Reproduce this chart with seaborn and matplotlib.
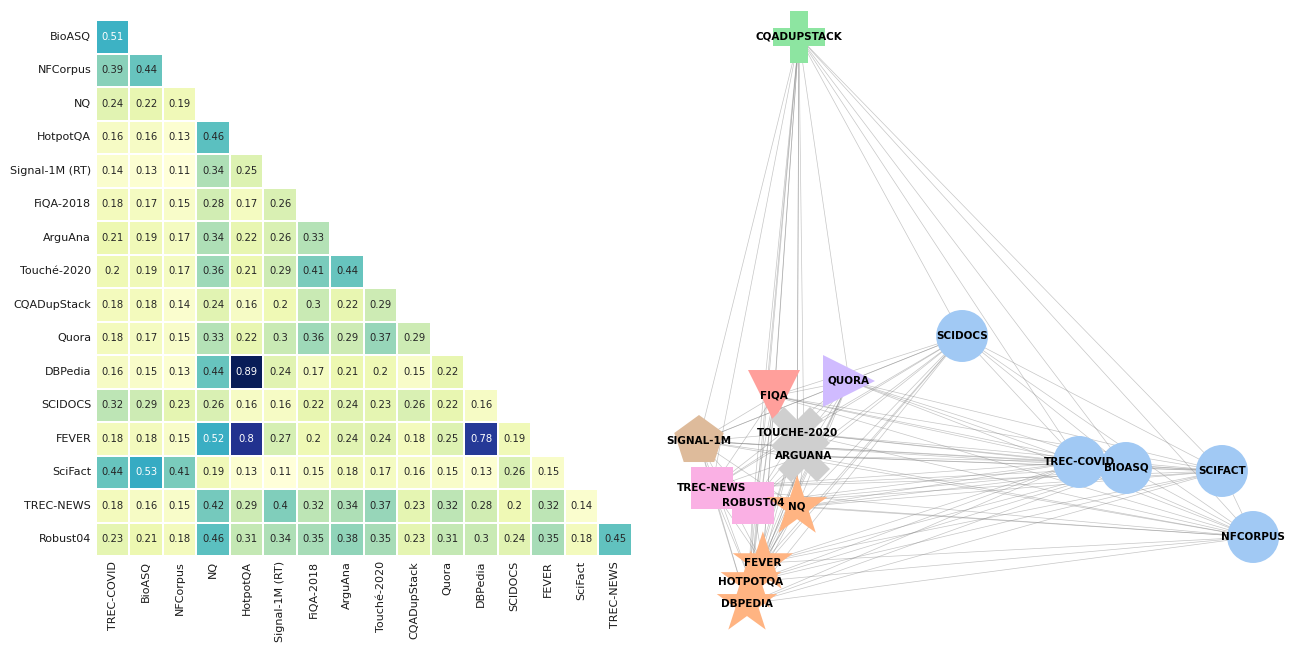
import numpy as np
import pandas as pd
import matplotlib
matplotlib.use("Agg")
import matplotlib.pyplot as plt
import seaborn as sns
from matplotlib.collections import LineCollection

# ---------------- heatmap data ----------------
datasets = ["TREC-COVID", "BioASQ", "NFCorpus", "NQ", "HotpotQA", "Signal-1M (RT)",
            "FiQA-2018", "ArguAna", "Touché-2020", "CQADupStack", "Quora", "DBPedia",
            "SCIDOCS", "FEVER", "SciFact", "TREC-NEWS", "Robust04"]

sim_bioasq = [0.51]
sim_nfcorpus = [0.39, 0.44]
sim_nq = [0.24, 0.22, 0.19]
sim_hotpotqa = [0.16, 0.16, 0.13, 0.46]
sim_signal = [0.14, 0.13, 0.11, 0.34, 0.25]
sim_fiqa = [0.18, 0.17, 0.15, 0.28, 0.17, 0.26]
sim_arguana = [0.21, 0.19, 0.17, 0.34, 0.22, 0.26, 0.33]
sim_touche = [0.2, 0.19, 0.17, 0.36, 0.21, 0.29, 0.41, 0.44]
sim_cqadupstack = [0.18, 0.18, 0.14, 0.24, 0.16, 0.2, 0.3, 0.22, 0.29]
sim_quora = [0.18, 0.17, 0.15, 0.33, 0.22, 0.3, 0.36, 0.29, 0.37, 0.29]
sim_dbpedia = [0.16, 0.15, 0.13, 0.44, 0.89, 0.24, 0.17, 0.21, 0.2, 0.15, 0.22]
sim_scidocs = [0.32, 0.29, 0.23, 0.26, 0.16, 0.16, 0.22, 0.24, 0.23, 0.26, 0.22, 0.16]
sim_fever = [0.18, 0.18, 0.15, 0.52, 0.8, 0.27, 0.2, 0.24, 0.24, 0.18, 0.25, 0.78, 0.19]
sim_scifact = [0.44, 0.53, 0.41, 0.19, 0.13, 0.11, 0.15, 0.18, 0.17, 0.16, 0.15, 0.13, 0.26, 0.15]
sim_trecnews = [0.18, 0.16, 0.15, 0.42, 0.29, 0.4, 0.32, 0.34, 0.37, 0.23, 0.32, 0.28, 0.2, 0.32, 0.14]
sim_robust04 = [0.23, 0.21, 0.18, 0.46, 0.31, 0.34, 0.35, 0.38, 0.35, 0.23, 0.31, 0.3, 0.24, 0.35, 0.18, 0.45]

# ---------------- graph data ----------------
node_names = ["CQADUPSTACK", "SCIDOCS", "QUORA", "FIQA", "SIGNAL-1M", "TOUCHE-2020",
              "ARGUANA", "TREC-NEWS", "ROBUST04", "NQ", "FEVER", "HOTPOTQA", "DBPEDIA",
              "TREC-COVID", "BIOASQ", "SCIFACT", "NFCORPUS"]
node_group = ["cqa", "bio", "quora", "fin", "tweet", "arg", "arg", "news", "news",
              "wiki", "wiki", "wiki", "wiki", "bio", "bio", "bio", "bio"]
node_x = [-0.587, -0.043, -0.420, -0.670, -0.920, -0.593, -0.570, -0.877, -0.740,
          -0.593, -0.707, -0.747, -0.760, 0.347, 0.503, 0.823, 0.927]
node_y = [0.977, -0.020, -0.170, -0.220, -0.370, -0.343, -0.420, -0.527, -0.577,
          -0.590, -0.777, -0.840, -0.913, -0.440, -0.460, -0.470, -0.690]

group_order = ["bio", "wiki", "cqa", "fin", "quora", "tweet", "news", "arg"]
group_markers = {"bio": "o", "wiki": "*", "cqa": "P", "fin": "v", "quora": ">",
                 "tweet": "p", "news": "s", "arg": "X"}
group_sizes = {"bio": 1400, "wiki": 2100, "cqa": 1400, "fin": 1400, "quora": 1400,
               "tweet": 1400, "news": 910, "arg": 1400}

# ---------------- figure ----------------
sns.set_theme(style="white")
plt.rcParams["font.family"] = ["DejaVu Sans"]

fig = plt.figure(figsize=(12.91, 6.56), dpi=100)
ax1 = fig.add_axes([96 / 1291, 100 / 656, 536 / 1291, 536 / 656])
ax2 = fig.add_axes([671 / 1291, 0, 620 / 1291, 1])

lower_rows = [sim_bioasq, sim_nfcorpus, sim_nq, sim_hotpotqa, sim_signal, sim_fiqa,
              sim_arguana, sim_touche, sim_cqadupstack, sim_quora, sim_dbpedia,
              sim_scidocs, sim_fever, sim_scifact, sim_trecnews, sim_robust04]
n = len(lower_rows)
mat = np.full((n, n), np.nan)
for i, row in enumerate(lower_rows):
    mat[i, :len(row)] = row
df = pd.DataFrame(mat, index=datasets[1:], columns=datasets[:-1])

sns.heatmap(df, ax=ax1, annot=True, fmt=".2g", cmap="YlGnBu", cbar=False,
            linewidths=1.3, linecolor="white", annot_kws={"size": 7.2})
ax1.tick_params(axis="both", length=0, labelsize=8, labelcolor="#1a1a1a")
ax1.set_xticklabels(ax1.get_xticklabels(), rotation=90)
ax1.set_yticklabels(ax1.get_yticklabels(), rotation=0)
ax1.set_xlabel("")
ax1.set_ylabel("")

# graph edges (all pairs)
segs = []
for i in range(len(node_names)):
    for j in range(i + 1, len(node_names)):
        segs.append([(node_x[i], node_y[i]), (node_x[j], node_y[j])])
ax2.add_collection(LineCollection(segs, colors="grey", linewidths=0.5, alpha=0.45, zorder=1))

nodes = pd.DataFrame({"x": node_x, "y": node_y, "group": node_group, "name": node_names})
palette = dict(zip(group_order, sns.color_palette("pastel", len(group_order))))
sns.scatterplot(data=nodes, x="x", y="y", hue="group", style="group", size="group",
                hue_order=group_order, style_order=group_order, size_order=group_order,
                palette=palette, markers=group_markers, sizes=group_sizes, linewidth=0,
                legend=False, ax=ax2, zorder=2, alpha=1)
for xx, yy, nm in zip(node_x, node_y, node_names):
    ax2.text(xx, yy, nm, ha="center", va="center", fontsize=7.5,
             fontweight="bold", color="black", zorder=3)

ax2.set_xlim(-1.0133, 1.0533)
ax2.set_ylim(-1.0867, 1.1)
ax2.axis("off")

fig.savefig("out.png", dpi=100, facecolor="white")
